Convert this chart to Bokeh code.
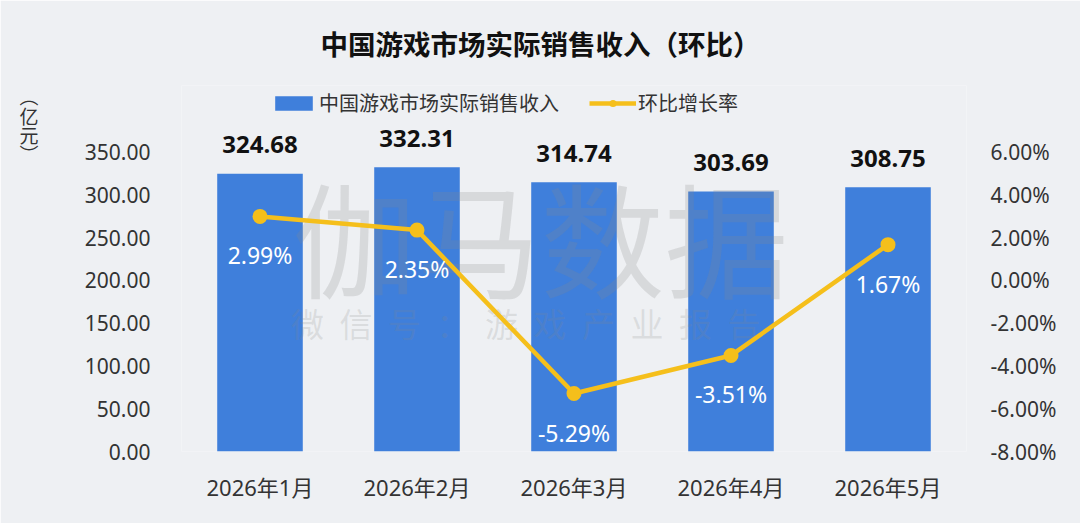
from bokeh.plotting import figure
from bokeh.models import (Range1d, LinearAxis, FixedTicker, PrintfTickFormatter,
                          Label, Legend, LegendItem, ColumnDataSource, Title)
from bokeh.embed import file_html
from bokeh.resources import INLINE
from bokeh.core.properties import value

# ---------------- data ----------------
months = ["2026年1月", "2026年2月", "2026年3月", "2026年4月", "2026年5月"]
revenue = [324.68, 332.31, 314.74, 303.69, 308.75]
growth = [2.99, 2.35, -5.29, -3.51, 1.67]
left_ticks = [0, 50, 100, 150, 200, 250, 300, 350]
right_ticks = [-8, -6, -4, -2, 0, 2, 4, 6]
title_text = "中国游戏市场实际销售收入（环比）"
bar_name = "中国游戏市场实际销售收入"
line_name = "环比增长率"
unit_chars = ["︵", "亿", "元", "︶"]
wm_big = "伽马数据"
wm_small = "微信号：游戏产业报告"

# ---------------- style ----------------
BG = "#eef0f3"
BLUE = "#3f7fdb"
YELLOW = "#f5bf1b"
CJK = "Noto Sans CJK SC"
NUM = "Noto Sans, Noto Sans CJK SC"

src = ColumnDataSource(dict(
    m=months, rev=revenue, g=growth,
    rev_lbl=[f"{v:.2f}" for v in revenue],
    g_lbl=[f"{v:.2f}%" for v in growth],
))

p = figure(width=1080, height=523, x_range=months,
           y_range=Range1d(0, 427.7), title=None,
           output_backend="svg", toolbar_location=None,
           min_border_left=181, min_border_right=114,
           min_border_top=85, min_border_bottom=72)
p.extra_y_ranges = {"pct": Range1d(-8, 9.11)}
p.background_fill_color = BG
p.border_fill_color = BG
p.outline_line_color = None
p.grid.visible = False

p.add_layout(Title(text=title_text, align="left", offset=139, standoff=43,
                   vertical_align="middle",
                   text_font=CJK, text_font_size="27.5px", text_font_style="bold",
                   text_color="#111111"), "above")

bars = p.vbar(x="m", top="rev", width=0.545, source=src,
              fill_color=BLUE, line_color=None)
line = p.line(x="m", y="g", source=src, y_range_name="pct",
              line_color=YELLOW, line_width=4.5, level="overlay")
dots = p.scatter(x="m", y="g", source=src, y_range_name="pct",
                 size=15, fill_color=YELLOW, line_color=None, level="overlay")

p.text(x="m", y="rev", text="rev_lbl", source=src, y_offset=-29,
       text_align="center", text_baseline="middle",
       text_font=value(NUM), text_font_size="24px", text_font_style="bold",
       text_color="#111111", level="overlay")
p.text(x="m", y="g", text="g_lbl", source=src, y_range_name="pct", y_offset=39,
       text_align="center", text_baseline="middle",
       text_font=value(NUM), text_font_size="23px",
       text_color="white", level="overlay")

# axes
for ax in [p.xaxis[0], p.yaxis[0]]:
    ax.axis_line_color = None
    ax.major_tick_line_color = None
    ax.minor_tick_line_color = None
    ax.major_tick_out = 0
    ax.major_label_text_color = "#333333"

p.yaxis[0].ticker = FixedTicker(ticks=left_ticks)
p.yaxis[0].formatter = PrintfTickFormatter(format="%.2f")
p.yaxis[0].major_label_text_font = NUM
p.yaxis[0].major_label_text_font_size = "21px"
p.yaxis[0].major_label_standoff = 31

p.xaxis[0].major_label_text_font = NUM
p.xaxis[0].major_label_text_font_size = "22px"
p.xaxis[0].major_label_standoff = 20

ra = LinearAxis(y_range_name="pct", ticker=FixedTicker(ticks=right_ticks),
                formatter=PrintfTickFormatter(format="%.2f%%"))
ra.axis_line_color = None
ra.major_tick_line_color = None
ra.minor_tick_line_color = None
ra.major_tick_out = 0
ra.major_label_standoff = 24
ra.major_label_text_font = NUM
ra.major_label_text_font_size = "21px"
ra.major_label_text_color = "#333333"
p.add_layout(ra, "right")

# unit label as an extra (tick-less) left axis; trailing blank lines lift it
unit_text = "\n".join(unit_chars) + "\n" * 15
ua = LinearAxis(ticker=FixedTicker(ticks=[]),
                axis_label=unit_text, axis_label_orientation="horizontal",
                axis_label_standoff=43,
                axis_label_text_font=CJK, axis_label_text_font_size="19px",
                axis_label_text_font_style="normal",
                axis_label_text_line_height=0.71,
                axis_label_text_color="#333333")
ua.axis_line_color = None
ua.major_tick_line_color = None
ua.minor_tick_line_color = None
ua.major_tick_out = 0
p.add_layout(ua, "left")

# legend
legend = Legend(items=[LegendItem(label=bar_name, renderers=[bars]),
                       LegendItem(label=line_name, renderers=[line, dots])],
                orientation="horizontal", location=(89, 334),
                glyph_width=47, glyph_height=18, label_standoff=2, spacing=30,
                padding=0, margin=0, border_line_color=None,
                background_fill_alpha=0,
                label_text_font=CJK, label_text_font_size="20px",
                label_text_color="#333333")
p.add_layout(legend)

# watermark
p.add_layout(Label(x=359, y=217, x_units="screen", y_units="screen",
                   text=wm_big, text_align="center", text_baseline="middle",
                   text_font=CJK, text_font_size="124px",
                   text_color="#888888", text_alpha=0.22))
for i, ch in enumerate(wm_small):
    p.add_layout(Label(x=126 + i * 48.5, y=129, x_units="screen", y_units="screen",
                       text=ch, text_align="center", text_baseline="middle",
                       text_font=CJK, text_font_size="33px",
                       text_color="#888888", text_alpha=0.2))

open("out.html", "w").write(file_html(p, INLINE))
